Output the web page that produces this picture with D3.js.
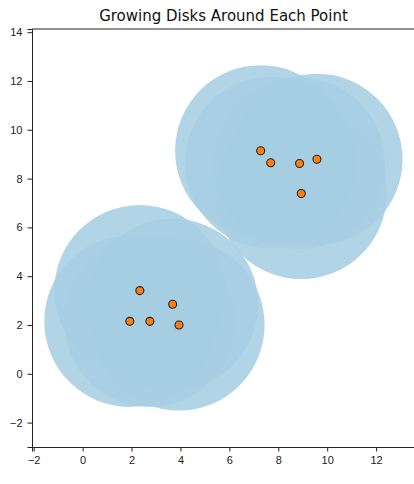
<!DOCTYPE html>
<html>
<head>
<meta charset="utf-8">
<script src="https://cdn.jsdelivr.net/npm/d3@7"></script>
<style>
	body { margin: 0; background: #fff; }
	svg { display: block; font-family: "DejaVu Sans", sans-serif; }
	.tick text { fill: #222; font-size: 11px; }
	.tick line { stroke: #222; }
</style>
</head>
<body>
<svg id="chart" width="414" height="484"></svg>
<script>
// point coordinates
let xs = [2.34, 3.68, 1.93, 2.75, 3.94, 7.28, 7.69, 8.87, 9.58, 8.94];
let ys = [3.41, 2.85, 2.15, 2.15, 2.00, 9.14, 8.65, 8.62, 8.79, 7.39];
let diskRadius = 3.5;
let xTicks = [-2, 0, 2, 4, 6, 8, 10, 12];
let yTicks = [-2, 0, 2, 4, 6, 8, 10, 12, 14];
let title = "Growing Disks Around Each Point";

var points = xs.map(function (x, i) { return { x: x, y: ys[i] }; });

let plotLeft = 32, plotRight = 415, plotTop = 29, plotBottom = 447;

var svg = d3.select("#chart");

var x = d3.scaleLinear().domain([-2.07, 13.59]).range([plotLeft, plotRight]);
var y = d3.scaleLinear().domain([-3.0, 14.13]).range([plotBottom, plotTop]);

svg.append("defs").append("clipPath")
	.attr("id", "plotClip")
	.append("rect")
	.attr("x", plotLeft).attr("y", plotTop)
	.attr("width", plotRight - plotLeft).attr("height", plotBottom - plotTop);

var plot = svg.append("g").attr("clip-path", "url(#plotClip)");

// disks, radius in data units
let pxPerUnit = x(1) - x(0);
plot.selectAll(".disk")
	.data(points)
	.join("circle")
	.attr("class", "disk")
	.attr("cx", function (d) { return x(d.x); })
	.attr("cy", function (d) { return y(d.y); })
	.attr("r", diskRadius * pxPerUnit)
	.attr("fill", "#a6cee3")
	.attr("fill-opacity", 0.88);

plot.selectAll(".pt")
	.data(points)
	.join("circle")
	.attr("class", "pt")
	.attr("cx", function (d) { return x(d.x); })
	.attr("cy", function (d) { return y(d.y); })
	.attr("r", 4)
	.attr("fill", "#ff7f0e")
	.attr("stroke", "#222")
	.attr("stroke-width", 1.1);

// axes
svg.append("g")
	.attr("transform", `translate(0,${plotBottom})`)
	.call(d3.axisBottom(x).tickValues(xTicks).tickSize(4.5).tickPadding(5).tickFormat(d3.format("d")))
	.call(function (g) { g.select(".domain").attr("stroke", "#222"); });

svg.append("g")
	.attr("transform", `translate(${plotLeft},0)`)
	.call(d3.axisLeft(y).tickValues(yTicks).tickSize(4.5).tickPadding(5).tickFormat(d3.format("d")))
	.call(function (g) { g.select(".domain").attr("stroke", "#222"); });

// top spine
svg.append("line")
	.attr("x1", plotLeft).attr("x2", plotRight)
	.attr("y1", plotTop).attr("y2", plotTop)
	.attr("stroke", "#222");

svg.append("text")
	.attr("x", (plotLeft + plotRight) / 2)
	.attr("y", 21)
	.attr("text-anchor", "middle")
	.attr("font-size", 15)
	.attr("fill", "#111")
	.text(title);
</script>
</body>
</html>
